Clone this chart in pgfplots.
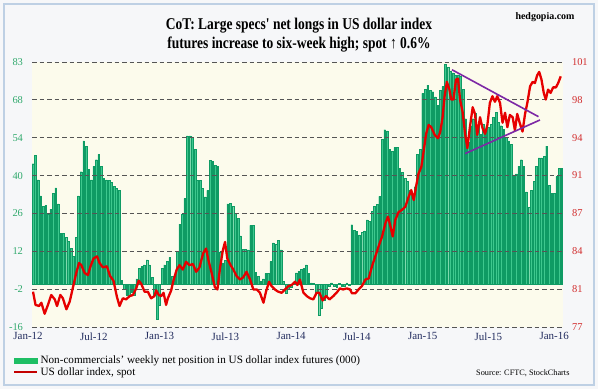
\documentclass[border=0pt]{standalone}
\usepackage{pgfplots}
\pgfplotsset{compat=1.18}
\usepackage{pgfplotstable}
\usepackage{fontspec}
\setmainfont{Liberation Serif}
\newfontfamily\titlefont{Liberation Serif}[FakeStretch=0.82]
\definecolor{barfill}{RGB}{62,200,142}
\definecolor{baredge}{RGB}{15,155,100}
\definecolor{legfill}{RGB}{30,190,100}
\definecolor{spotred}{RGB}{230,0,0}
\definecolor{tri}{RGB}{125,40,165}
\definecolor{leftc}{RGB}{50,170,110}
\definecolor{rightc}{RGB}{210,45,45}
\definecolor{navyc}{RGB}{35,45,95}
\definecolor{plotbg}{RGB}{252,251,236}
\definecolor{outerbg}{RGB}{246,247,249}
\definecolor{framec}{RGB}{190,208,228}
\definecolor{gridc}{RGB}{85,85,85}

\pgfplotstableread{
i v
0 45
1 48
2 39
3 33
4 29
5 29.5
6 26
7 28
8 34
9 36
10 30
11 19
12 19
13 17.5
14 16
15 13.5
16 10.5
17 17.5
18 33
19 42
20 53.5
21 51.5
22 43
23 39
24 44
25 46.5
26 48.5
27 44
28 39.5
29 39
30 38.7
31 38
32 36.6
33 35.8
34 35
35 1.5
36 -2
37 -4
38 -4
39 -3
40 -4
41 2
42 6
43 6.6
44 7.2
45 9.1
46 7.2
47 2.5
48 -4
49 -13
50 -8
51 6
52 7.2
53 8.5
54 10
55 2.8
56 2.5
57 12.3
58 22.4
59 26.2
60 32
61 55.4
62 55.4
63 55
64 50.3
65 38.9
66 38.9
67 35.8
68 32.6
69 35
70 46.3
71 45.9
72 44.3
73 44
74 12
75 8
76 9
77 30
78 30.3
79 29
80 26.5
81 24.5
82 18
83 13
84 13
85 12.8
86 22
87 22
88 4.5
89 3
90 1
91 2
92 4
93 4
94 8.4
95 15.4
96 14.8
97 16.5
98 12.8
99 1
100 -3.3
101 -2
102 -1
103 0.5
104 4.2
105 4.8
106 5.5
107 6
108 7.2
109 4
110 0.5
111 0.3
112 -3
113 -11.5
114 -9
115 -6
116 -4
117 -0.8
118 0.5
119 -0.6
120 -1
121 0.4
122 -0.7
123 -0.9
124 0.5
125 -0.5
126 22.2
127 20.2
128 19.7
129 18.4
130 19.3
131 19.9
132 24
133 23.5
134 27.3
135 29.2
136 29.8
137 32.8
138 54.1
139 57.7
140 57.3
141 50.3
142 49.7
143 51
144 51
145 43.4
146 41.7
147 39.6
148 38.3
149 35.1
150 32.6
151 36.4
152 48.4
153 50.3
154 71.3
155 72.9
156 74.4
157 72.5
158 71.9
159 70
160 66.8
161 72.5
162 73.8
163 82
164 81
165 79.5
166 78.9
167 78.2
168 78.2
169 77.6
170 72.9
171 61.8
172 52.9
173 59.2
174 61.8
175 63.7
176 59.2
177 56
178 59.8
179 56.7
180 58.6
181 59.8
182 62.4
183 64.3
184 60.5
185 59.2
186 57.9
187 54.8
188 53.5
189 52.2
190 40.8
191 41.2
192 44
193 46.5
194 44
195 34.5
196 28.8
197 35.1
198 38.3
199 44
200 47.2
201 47.2
202 47.8
203 51.6
204 37
205 33.9
206 33.9
207 40.2
208 43.4
209 43.4
}\cotdata

\pgfplotstableread{
i v
0 80.2
1 79.0
2.4 78.9
3.3 79.2
4.6 78.2
5.9 79.0
7.2 79.9
8.6 79.5
9.5 78.9
10.8 79.9
11.8 79.6
13.2 78.6
14.5 79.3
15.8 80.6
17.1 81.9
18.2 82.8
19.1 82.6
20.4 81.9
21.7 81.7
22.6 82.4
23.9 83.2
25.3 83.4
26.3 82.8
27.6 82.4
29.2 82.5
30.5 81.6
31.8 81.2
33.2 79.7
34.2 78.9
35.5 79.6
36.8 79.5
38.2 79.8
39.5 79.9
40.8 80.5
41.8 81.2
42.8 80.9
44.1 80.2
45.4 80.2
46.7 79.6
48.0 79.8
48.7 80.3
49.7 79.9
50.7 79.8
51.6 80.1
52.6 79.0
53.3 79.6
54.6 80.3
55.5 81.2
56.8 82.2
57.9 82.6
59.2 82.2
60.5 82.9
61.8 82.6
63.2 82.7
64.5 82.0
65.8 82.4
67.3 83.7
68.4 84.1
69.3 83.1
70.6 81.9
71.9 80.6
72.9 80.4
73.9 82.3
75 83.9
75.9 84.7
76.8 83.2
78.1 82.6
79.2 82.2
80.5 81.6
81.8 81.3
83.1 81.5
84.4 82.0
85.8 81.3
87.1 80.4
88.4 80.4
89.7 80.1
91.1 79.2
92.1 80.2
93.3 81.1
94.3 80.7
95.6 80.4
96.9 80.2
98.3 80.1
99.6 80.4
100.9 80.7
102.2 80.8
103.6 81.1
104.5 80.8
105.5 81.3
106.9 80.1
108.2 79.8
109.5 79.6
110.8 79.5
112.1 80.1
113.2 80.1
114.5 79.4
115.8 79.8
117.2 79.5
118.7 79.8
120.0 80.1
121.3 80.5
122.6 80.4
124 80.5
125.3 80.4
126.1 80.05
127.4 80.05
128.7 80.4
130 80.7
131.4 81.3
132.7 81.4
134 82.5
135.3 83.4
136.6 84.3
138 85.2
139.3 86.4
140.3 87.0
141.2 86.2
142.2 85.2
143.2 86.7
144.5 87.4
145.8 87.6
147.2 87.9
148.5 88.8
149.5 89.4
150.5 88.5
151.4 89.7
152.4 90.9
153.5 91.5
154.4 92.9
155.4 94.5
156.4 95.3
157.4 95.1
158.8 94.4
160.1 94.1
161 94.7
161.9 96.0
162.7 97.9
163.6 99.2
164.6 98.5
165.3 97.6
166.2 97.6
167.2 99.4
168 99.5
168.8 97.6
169.8 96.5
170.8 94.5
171.7 93.2
172.7 95.1
173.8 96.9
174.7 96.3
175.6 94.4
176.7 96.0
177.7 95.0
178.7 94.5
179.6 95.3
180.6 97.3
181.6 97.9
182.6 97.4
183.5 97.9
184.6 97.3
185.6 95.5
186.6 96.4
187.5 95.1
188.5 96.2
189.6 96.0
190.5 94.8
191.4 96.3
192.5 95.4
193.5 94.7
194.5 96.3
195.4 97.3
196.5 98.8
197.5 99.2
198.4 99.1
199.3 99.8
200.1 100.1
201 99.4
201.9 98.2
202.7 97.6
203.6 98.5
204.6 98.2
205.6 98.7
206.7 98.7
207.6 99.1
208.6 99.7
}\spotdata

\begin{document}
\begin{tikzpicture}
\path[use as bounding box] (0bp,0bp) rectangle (598bp,389bp);
\fill[outerbg] (0bp,0bp) rectangle (598bp,389bp);
\draw[framec, line width=1.2bp] (4bp,4bp) rectangle (594bp,385bp);
\node[font=\titlefont\bfseries\fontsize{16.5}{19.5}\selectfont, align=center] at (299bp,354bp) {CoT: Large specs' net longs in US dollar index\\futures increase to six-week high; spot ↑ 0.6\%};
\node[font=\bfseries\fontsize{10}{12}\selectfont] at (545bp,372bp) {hedgopia.com};
\node[font=\fontsize{8.3}{10}\selectfont, anchor=east] at (573bp,16bp) {Source: CFTC, StockCharts};

\begin{axis}[
  at={(32bp,62bp)}, anchor=south west, scale only axis, width=531bp, height=265bp,
  xmin=-0.4, xmax=209.5, ymin=-16, ymax=83,
  axis line style={draw=none}, tick style={draw=none},
  axis background/.style={fill=plotbg},
  ytick={-16,-1.857,12.286,26.429,40.571,54.714,68.857,83},
  yticklabels={-16,-2,12,26,40,54,68,83},
  yticklabel style={font=\fontsize{10.5}{12}\selectfont, text=leftc, xshift=-5.5bp},
  xtick={0,26,...,208},
  xticklabels={Jan-12,Jul-12,Jan-13,Jul-13,Jan-14,Jul-14,Jan-15,Jul-15,Jan-16},
  xticklabel style={font=\fontsize{11}{12}\selectfont, text=navyc, xshift=-5bp, yshift=-2bp},
  ymajorgrids, grid style={gridc, line width=0.9bp, dash pattern=on 4.5bp off 3bp},
  axis on top,
]
\addplot[ybar, bar width=1.7bp, bar shift=0pt, fill=barfill, draw=baredge, line width=0.4bp] table[x=i,y=v] {\cotdata};
\end{axis}

\begin{axis}[
  at={(32bp,62bp)}, anchor=south west, scale only axis, width=531bp, height=265bp,
  xmin=-0.4, xmax=209.5, ymin=77, ymax=101,
  axis line style={draw=none}, tick style={draw=none},
  xtick=\empty,
  yticklabel pos=right,
  ytick={77,80.429,83.857,87.286,90.714,94.143,97.571,101},
  yticklabels={77,81,84,87,91,94,98,101},
  yticklabel style={font=\fontsize{10.5}{12}\selectfont, text=rightc, xshift=5.5bp},
  legend style={at={(-0.036,-0.100)}, anchor=north west, draw=none, fill=none,
    font=\fontsize{11.2}{12.5}\selectfont, row sep=-1.5bp, inner sep=0pt},
  legend cell align=left,
]
\addlegendimage{legend image code/.code={\fill[legfill] (0bp,-2.5bp) rectangle (23bp,2.5bp);}}
\addlegendentry{Non-commercials' weekly net position in US dollar index futures (000)}
\addplot[spotred, line width=2.3bp, line join=round,
  legend image code/.code={\draw[spotred!85!black, line width=2.5bp] (0bp,0bp) -- (23bp,0bp);}] table[x=i,y=v] {\spotdata};
\addlegendentry{US dollar index, spot}
\addplot[tri, line width=1.6bp, forget plot] coordinates {(165.6,100.3) (199.8,96.05)};
\addplot[tri, line width=1.6bp, forget plot] coordinates {(170.8,92.7) (200.4,95.75)};
\end{axis}
\end{tikzpicture}
\end{document}
